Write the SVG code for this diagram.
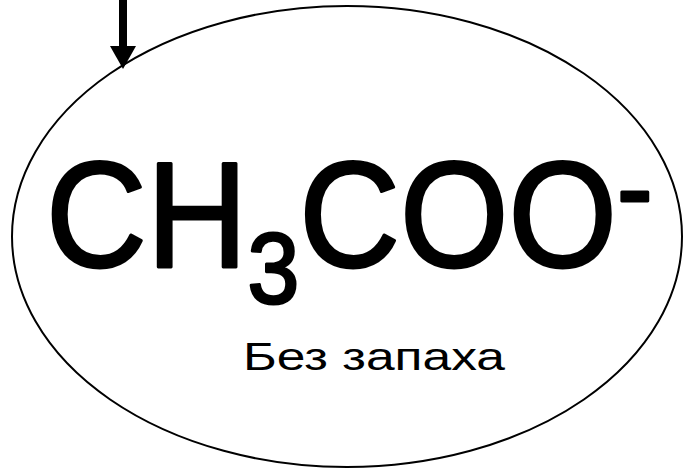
<svg xmlns="http://www.w3.org/2000/svg" width="683" height="469" viewBox="0 0 683 469">
<style>
.f{font-family:"Liberation Sans","DejaVu Sans",sans-serif;fill:#000}
.b{stroke:#000;stroke-width:3;stroke-linejoin:round}
</style>
<rect width="683" height="469" fill="#fff"/>
<g id="connectors">
<rect x="119" y="0" width="8" height="48" fill="#000"/>
<polygon points="110,46 136,46 123,69" fill="#000"/>
</g>
<g id="node-ion">
<ellipse cx="347" cy="236.5" rx="335" ry="230.5" fill="none" stroke="#000" stroke-width="2"/>
<text class="f b" font-size="150" transform="translate(46,0) scale(0.93,1)" x="0" y="267">CH<tspan font-size="100" dy="36">3</tspan><tspan dy="-36">COO</tspan><tspan font-size="115" dy="-40">-</tspan></text>
<text class="f" x="374" y="370" font-size="38" text-anchor="middle" textLength="262" lengthAdjust="spacingAndGlyphs">Без запаха</text>
</g>
</svg>
